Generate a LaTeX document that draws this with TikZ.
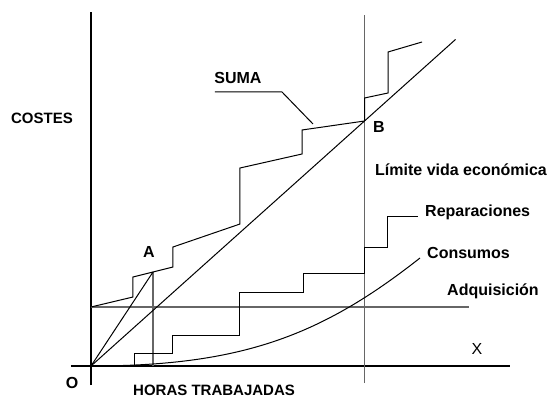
\documentclass[tikz,border=0pt]{standalone}
\usepackage{fontspec}
\setmainfont{Liberation Sans}
\usetikzlibrary{calc}
\begin{document}
\begin{tikzpicture}[x=1pt,y=1pt,
    axisline/.style={line width=1.6pt},
    guide/.style={black!60, line width=1.3pt},
    curve/.style={line width=1pt, line join=miter},
    lbl/.style={inner sep=0pt, font=\bfseries\fontsize{16}{18}\selectfont},
    caplbl/.style={inner sep=0pt, font=\bfseries\fontsize{15}{18}\selectfont}]
    \useasboundingbox (-91,-31) rectangle (459,366);

    % Key points
    \coordinate (O) at (0,0);
    \coordinate (A) at (62,94);
    \coordinate (B) at (273.5,245);

    % Axes
    \draw[axisline] (0,-19) -- (0,354);
    \draw[axisline] (-20,0) -- (419,0);

    % Guide lines
    \draw[guide] (273.5,-17) -- (273.5,351);
    \draw[guide] (62,0) -- (A);
    \draw[guide] (0,59) -- (378,59);

    % Straight lines from the origin
    \draw[curve] (O) -- (A);
    \draw[curve] (O) -- ($(O)!1.333!(B)$);

    % Suma
    \draw[curve] (0,59) -- (42,69) -- (42,89) -- (A) -- (82,99) -- (82,119)
        -- (149,142) -- (149,198) -- (211,212) -- (211,236) -- (B);
    \draw[curve] (B) -- (273.5,268) -- (297,273) -- (297,314) -- (331,324);

    % Reparaciones
    \draw[curve] (44,0) -- (44,13) -- (82,13) -- (82,31) -- (149,31) -- (149,73)
        -- (212,73) -- (212,92) -- (273.5,92) -- (273.5,118) -- (296,118)
        -- (296,149) -- (327,149);

    % Consumos
    \draw[curve] (O) .. controls (150,0) and (230,30) .. (329,108);

    % Leader for Suma
    \draw[curve] (124,274) -- (191,274) -- (222,242);

    % Labels
    \node[caplbl] (costes) at (-49,248) {COSTES};
    \node[lbl] (suma) at (147,288) {SUMA};
    \node[lbl] (labB) at (288,239) {B};
    \node[lbl] (labA) at (58,114) {A};
    \node[lbl] (labO) at (-19,-17) {O};
    \node[lbl, anchor=west] (limite) at (284,196) {Límite vida económica};
    \node[lbl, anchor=west] (repar) at (334,154) {Reparaciones};
    \node[lbl, anchor=west] (consu) at (336,113) {Consumos};
    \node[lbl, anchor=west] (adqui) at (356,75) {Adquisición};
    \node[inner sep=0pt, font=\fontsize{16}{18}\selectfont] (labX) at (386,17) {X};
    \node[caplbl, anchor=west] (horas) at (42,-24) {HORAS TRABAJADAS};
\end{tikzpicture}
\end{document}
